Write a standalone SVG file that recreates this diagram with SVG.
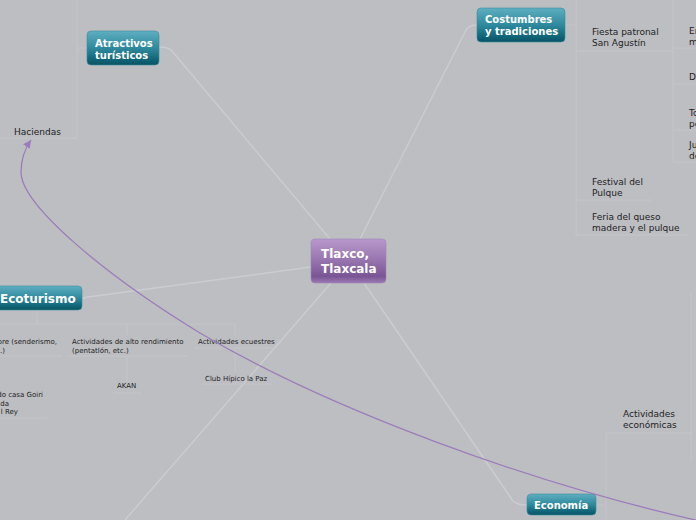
<svg xmlns="http://www.w3.org/2000/svg" width="696" height="520" viewBox="0 0 696 520">
<style>
.bg{fill:#bdbec2}
.conn{fill:none;stroke:#cbccd0;stroke-width:1.5}
.tree{fill:none;stroke:#c4c5c9;stroke-width:1}
.topic{fill:url(#teal);stroke:#3b8ea0;stroke-width:0.6}
.central{fill:url(#purp);stroke:#a283b8;stroke-width:0.6}
.tt{font-family:"DejaVu Sans",Verdana,sans-serif;font-weight:bold;fill:#ffffff}
.st{font-family:"DejaVu Sans",Verdana,sans-serif;font-size:9px;fill:#222222}
.sm{font-family:"DejaVu Sans",Verdana,sans-serif;font-size:7px;fill:#222222}
.rel{fill:none;stroke:#9c7cbc;stroke-width:1.3}
</style>
<defs>
<linearGradient id="teal" x1="0" y1="0" x2="0" y2="1">
<stop offset="0" stop-color="#5eaec0"/>
<stop offset="0.5" stop-color="#2f8a9d"/>
<stop offset="0.85" stop-color="#0f6476"/>
<stop offset="1" stop-color="#0a5364"/>
</linearGradient>
<linearGradient id="purp" x1="0" y1="0" x2="0" y2="1">
<stop offset="0" stop-color="#b899cc"/>
<stop offset="0.5" stop-color="#9673ad"/>
<stop offset="0.85" stop-color="#7a5595"/>
<stop offset="1" stop-color="#9a7ab3"/>
</linearGradient>
<marker id="arr" markerUnits="userSpaceOnUse" markerWidth="9" markerHeight="9" refX="8" refY="4" orient="auto">
<path d="M0,0 L8,4 L0,8 z" fill="#9c7cbc"/>
</marker>
</defs>
<rect class="bg" x="0" y="0" width="696" height="520"/>

<g id="connectors">
<path class="conn" d="M330 239 L172 51 Q168 47 159 47"/>
<path class="conn" d="M360 239 L466 30 Q469 25 477 25"/>
<path class="conn" d="M311 267 L88 297 Q85 298 82 298"/>
<path class="conn" d="M331 283 L125 520"/>
<path class="conn" d="M364 283 L513 501 Q517 505 527 505"/>
<path class="tree" d="M87 48 H77 M77 0 V138 H0"/>
<path class="tree" d="M565 25 H576 M576 0 V235 M576 51 H673 M576 200 H651 M576 235 H687 M673 0 V162 M673 48 H696 M673 84 H696 M673 130 H696 M673 162 H696"/>
<path class="tree" d="M596 505 H606 M606 433 V520 M606 433 H691 M691 293 V462"/>
<path class="tree" d="M37 310 V324 M0 324 H235 M127 324 V335 M235 324 V335 M0 356 H62 M67 356 H187 M127 356 V380 M113 393 H142 M194 348 H275 M235 348 V372 M202 384 H272 M0 418 H47"/>
</g>

<g id="central">
<rect class="central" x="311" y="239" width="75" height="44" rx="4"/>
<text class="tt" font-size="12" x="321" y="258">Tlaxco,</text>
<text class="tt" font-size="12" x="321" y="273">Tlaxcala</text>
</g>

<g id="atractivos">
<rect class="topic" x="87" y="31" width="72" height="34" rx="4"/>
<text class="tt" font-size="10" x="95" y="47">Atractivos</text>
<text class="tt" font-size="10" x="95" y="58.5">turísticos</text>
</g>

<g id="costumbres">
<rect class="topic" x="477" y="8" width="88" height="34" rx="4"/>
<text class="tt" font-size="10" x="485" y="23">Costumbres</text>
<text class="tt" font-size="10" x="485" y="34.5">y tradiciones</text>
</g>

<g id="ecoturismo">
<rect class="topic" x="-10" y="286" width="92" height="24" rx="4"/>
<text class="tt" font-size="12" x="0" y="303">Ecoturismo</text>
</g>

<g id="economia">
<rect class="topic" x="527" y="494" width="69" height="21" rx="4"/>
<text class="tt" font-size="10" x="534" y="509">Economía</text>
</g>

<g id="haciendas"><text class="st" x="14" y="135">Haciendas</text></g>

<g id="fiesta">
<text class="st" x="592" y="35">Fiesta patronal</text>
<text class="st" x="592" y="46">San Agustín</text>
</g>
<g id="fiesta-children">
<text class="st" x="689" y="34">En</text>
<text class="st" x="689" y="45">m</text>
<text class="st" x="689" y="80">D</text>
<text class="st" x="689" y="116">To</text>
<text class="st" x="689" y="127">pe</text>
<text class="st" x="689" y="148">Ju</text>
<text class="st" x="689" y="159">de</text>
</g>
<g id="festival">
<text class="st" x="592" y="185">Festival del</text>
<text class="st" x="592" y="196">Pulque</text>
</g>
<g id="feria">
<text class="st" x="592" y="220">Feria del queso</text>
<text class="st" x="592" y="231">madera y el pulque</text>
</g>
<g id="actividades-economicas">
<text class="st" x="623" y="417">Actividades</text>
<text class="st" x="623" y="428">económicas</text>
</g>

<g id="aire-libre">
<text class="sm" x="57" y="344" text-anchor="end">libre (senderismo,</text>
<text class="sm" x="5" y="353" text-anchor="end">etc.)</text>
</g>
<g id="alto-rendimiento">
<text class="sm" x="72" y="344">Actividades de alto rendimiento</text>
<text class="sm" x="72" y="353">(pentatlón, etc.)</text>
</g>
<g id="ecuestres"><text class="sm" x="198" y="344">Actividades ecuestres</text></g>
<g id="akan"><text class="sm" x="117" y="388">AKAN</text></g>
<g id="club"><text class="sm" x="205" y="381">Club Hípico la Paz</text></g>
<g id="hospedaje">
<text class="sm" x="43" y="397" text-anchor="end">do casa Goiri</text>
<text class="sm" x="9" y="406" text-anchor="end">da</text>
<text class="sm" x="18" y="414" text-anchor="end">l Rey</text>
</g>

<g id="relationship">
<path class="rel" marker-end="url(#arr)" d="M700 521 C530 483, 330 410, 200 333 C105 275, 21 205, 21 172 C21 160, 24 150, 31 140"/>
</g>
</svg>
